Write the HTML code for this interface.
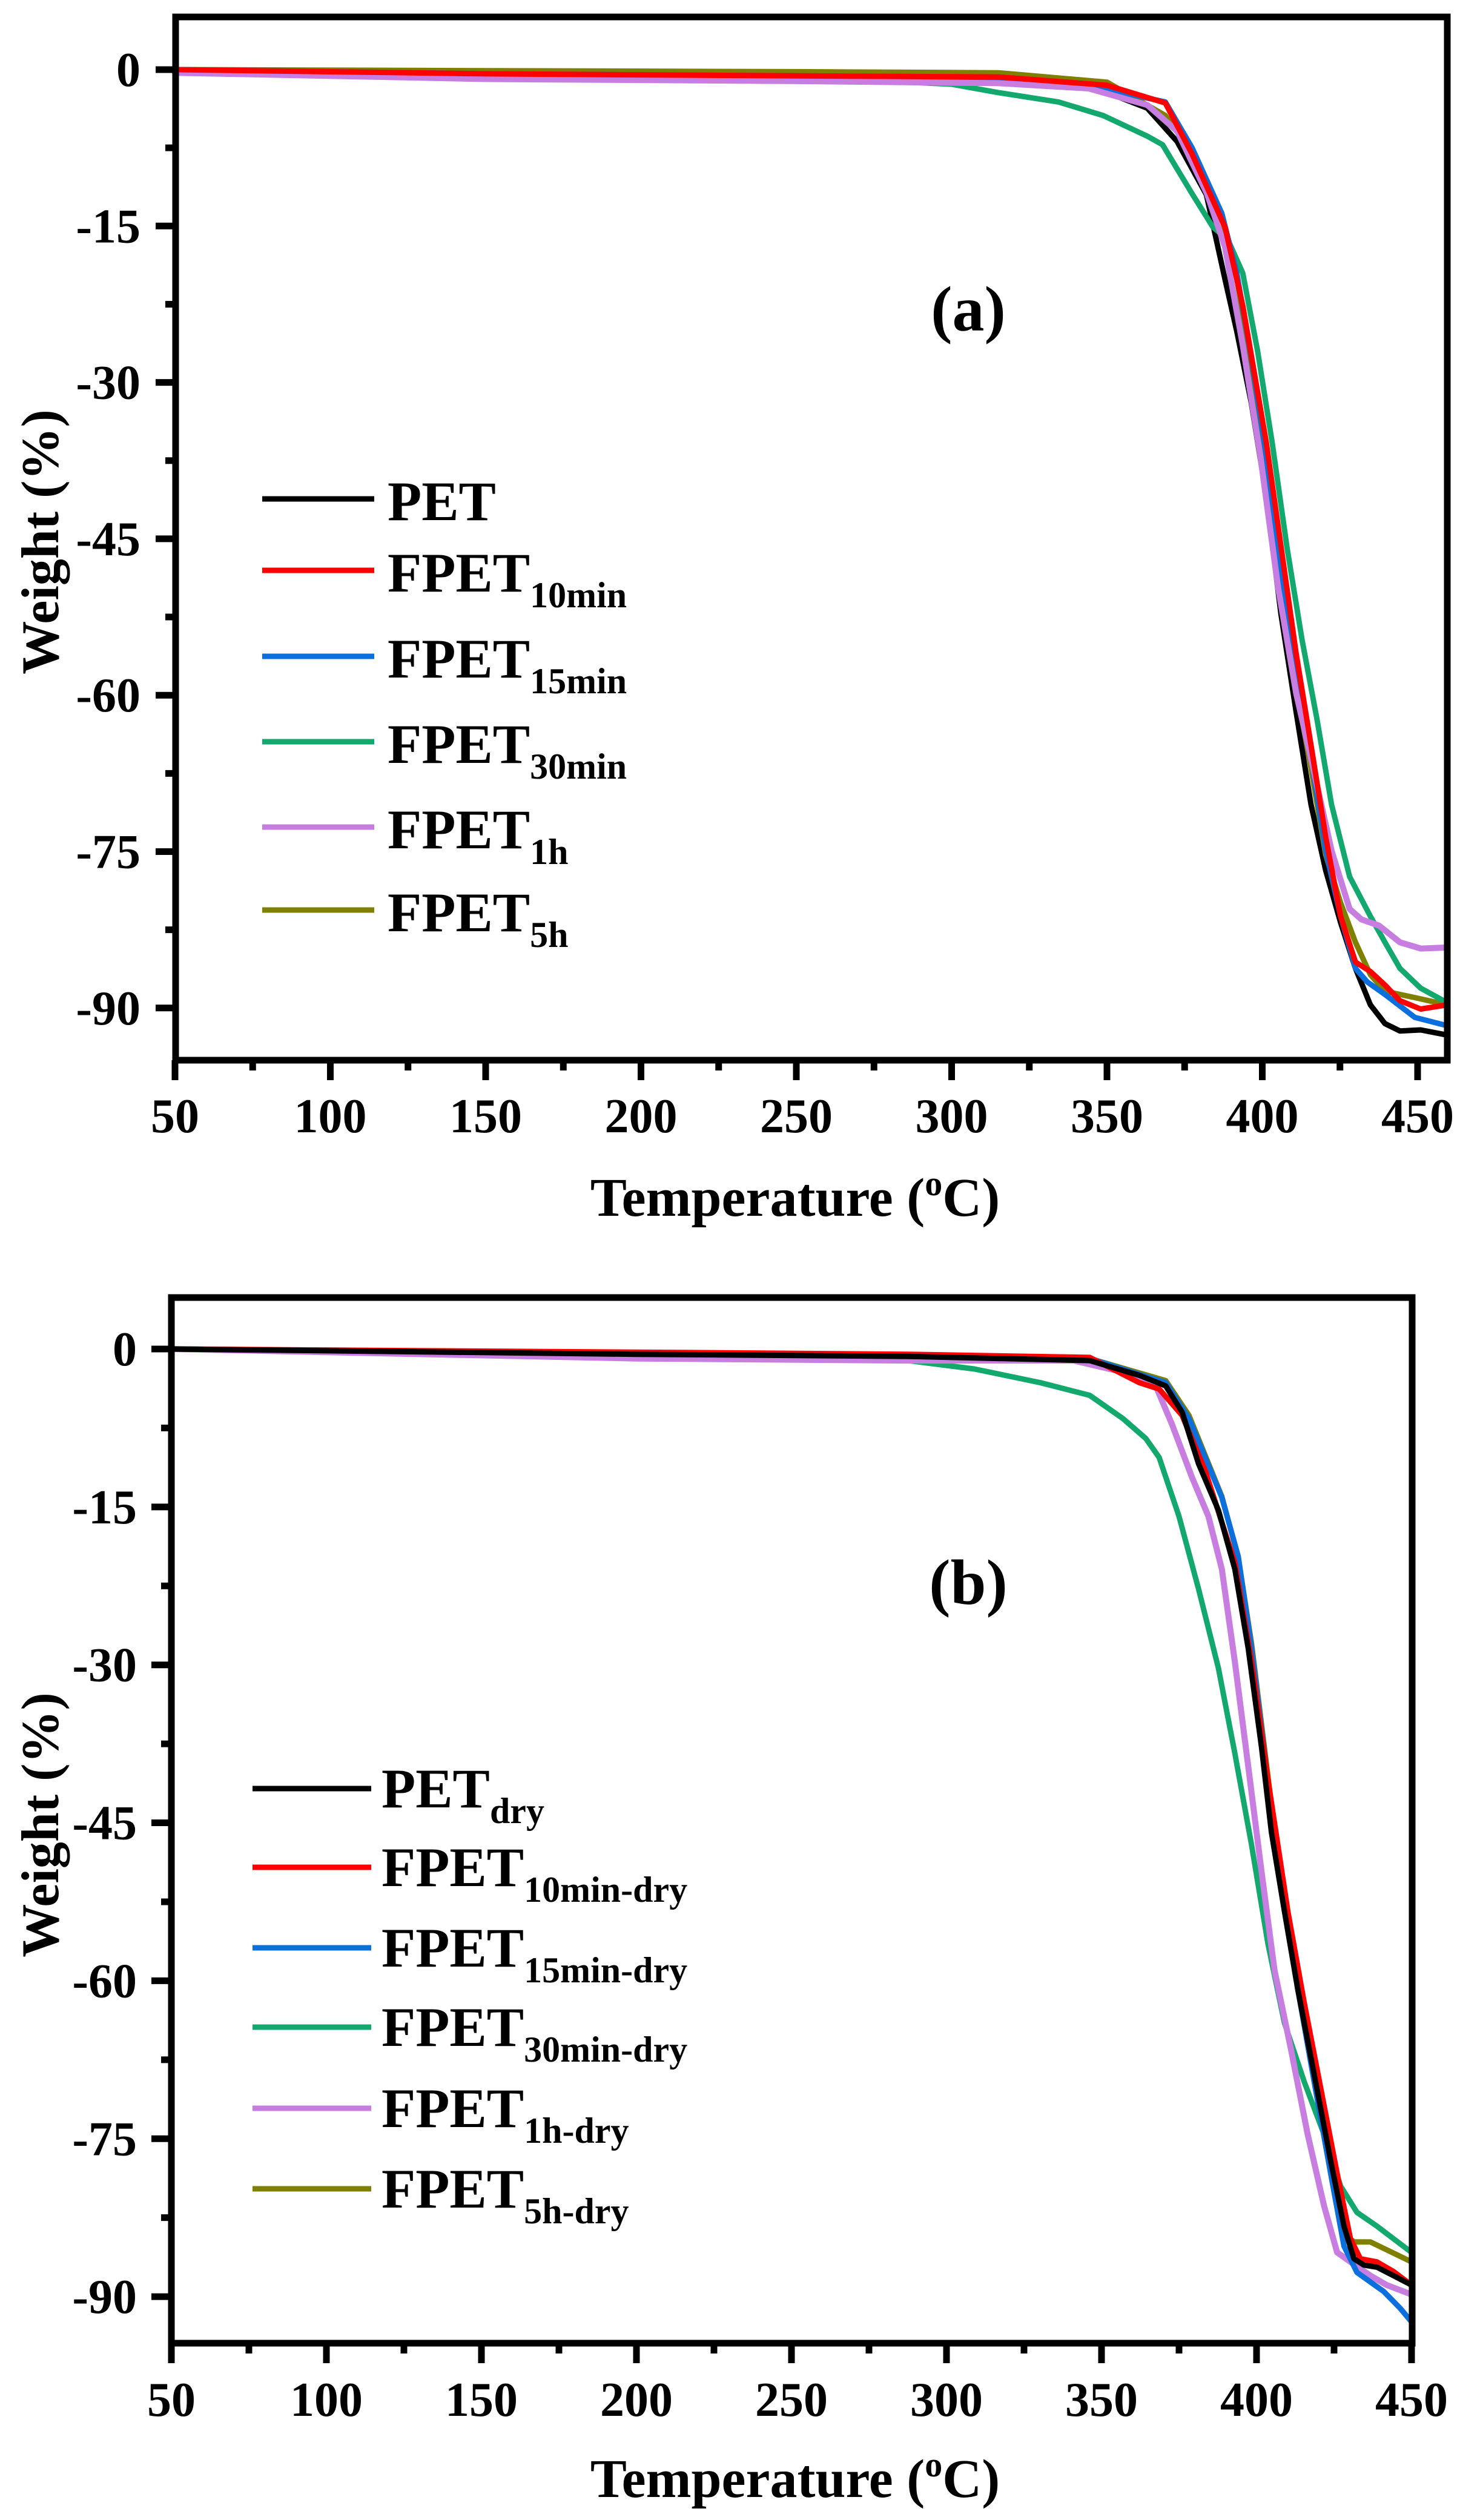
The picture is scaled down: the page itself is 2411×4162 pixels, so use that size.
<!DOCTYPE html>
<html><head><meta charset="utf-8"><style>
html,body{margin:0;padding:0;background:#fff}
svg{display:block}
text{font-family:"Liberation Serif",serif;font-weight:bold;fill:#000}
</style></head><body>
<svg id="chart" width="2411" height="4162" viewBox="0 0 2411 4162" xmlns="http://www.w3.org/2000/svg"></svg>
<script>
// ---------- Panel (a) data ----------
const aPET_T = [50,150,250,300,344,363,372.6,382,388,391.8,396.5,401.3,406,410.9,415.7,420.4,425.2,430,434.8,439.5,444.3,451,459.6];
const aPET_W = [0,-0.3,-0.6,-0.7,-1.5,-3.7,-6.9,-12,-20.1,-25.1,-32,-40.9,-52.2,-61.6,-70.5,-76.8,-81.8,-86.2,-89.7,-91.5,-92.2,-92.1,-92.6];
const a10_T = [50,150,250,315,350,368.8,377.4,388,393.7,401.3,406.1,410.9,415.7,420.4,425.2,430,434.8,439.5,444.3,451,459.6];
const a10_W = [0,-0.4,-0.6,-0.7,-1.5,-3.2,-8.1,-15.1,-22.6,-35.8,-45.9,-56,-64.8,-73.6,-81.2,-85.6,-86.5,-87.8,-89.3,-90.1,-89.7];
const a15_T = [50,150,250,315,344,368.8,377.4,387,391.8,396.5,401.3,406.1,410.9,415.7,420.4,425.2,430,433.8,439.5,449.1,459.6];
const a15_W = [0,-0.4,-0.6,-0.8,-1.5,-3.1,-7.5,-13.8,-19.5,-27.7,-37.1,-48.4,-58.5,-66,-74.9,-81.2,-86.2,-87.5,-88.7,-90.9,-91.7];
const a30_T = [50,150,250,300,315,334.4,348.8,363.1,367.9,377.4,384.1,388.9,393.7,398.5,403.2,408,412.8,417.6,422.3,428.1,434.8,439.5,444.3,451,459.6];
const a30_W = [0,-0.4,-0.7,-1.4,-2.2,-3.1,-4.4,-6.4,-7.2,-11.9,-15.1,-16.3,-19.5,-27,-35.8,-45.9,-54.7,-62.3,-70.5,-77.4,-81.2,-83.7,-86.2,-88.1,-89.5];
const a1h_T = [50,150,250,315,344,363,372.6,382.2,388,393.7,399.4,405.1,410.9,416.6,422.3,428.1,431.9,437.6,444.3,451,459.6];
const a1h_W = [-0.3,-0.9,-1.1,-1.3,-1.8,-3.4,-5.9,-11.9,-17,-26.4,-37.1,-49.7,-59.8,-67.3,-74.9,-80.5,-81.5,-82.1,-83.7,-84.3,-84.2];
const a5h_T = [50,150,250,315,350,368.8,377.4,387,391.8,396.5,401.3,406.1,410.9,415.7,420.4,425.2,430,434.8,439.5,449.1,459.6];
const a5h_W = [0,-0.1,-0.2,-0.3,-1.2,-4.4,-8,-14.2,-20,-28.5,-38.3,-49.5,-59.3,-67,-75.3,-79.9,-83.7,-86.8,-88.4,-89,-89.7];
// ---------- Panel (b) data ----------
const bPET_T = [50,200,287.7,346.2,362.2,370.7,376,381.3,387.7,393,397.3,401.6,404.8,409,413.3,418.6,423.9,428.2,431.4,434.6,438.8,444.1,450];
const bPET_W = [0,-0.5,-0.7,-1.1,-2.5,-3.5,-6,-10.9,-15.3,-20.9,-28.4,-37.8,-45.9,-53.4,-60.8,-68.9,-77.1,-83.3,-86.4,-87,-87.2,-88,-88.9];
const b10_T = [50,200,287.7,346.2,362.2,368.6,376,383.5,393,398.4,403.7,410.1,415.4,420.7,426,430.3,433.5,438.8,444.1,450];
const b10_W = [0,-0.3,-0.5,-0.8,-3.2,-3.8,-6.3,-11.6,-20.3,-29.7,-40.9,-53.4,-62.1,-70.2,-78.3,-84.5,-86.4,-86.7,-87.6,-88.9];
const b15_T = [50,200,287.7,346.2,370.7,378.2,388.8,394.1,398.4,402.6,408,413.3,418.6,423.9,428.2,432.4,436.7,441,446.3,450];
const b15_W = [0,-0.4,-0.6,-0.9,-3.2,-6.6,-14.1,-19.7,-28.4,-38.4,-51.5,-60.8,-69.6,-78.3,-85.2,-87.7,-88.6,-89.5,-91.1,-92.4];
const b30_T = [50,200,287.7,309,330.3,346.2,356.9,364.3,368.6,375,381.3,387.7,393,398.4,403.7,409,415.4,421.8,427.1,432.4,438.8,450];
const b30_W = [0,-0.6,-1.1,-1.9,-3.2,-4.4,-6.6,-8.5,-10.3,-15.9,-22.8,-30.3,-38.4,-47.1,-56.5,-64,-69.6,-74.6,-79.5,-82,-83.3,-85.8];
const b1h_T = [50,200,287.7,341,357,367.5,372.8,379.2,384.5,388.8,393,397.3,401.6,405.8,411.1,416.5,421.8,426,430.3,436.7,442,450];
const b1h_W = [0,-0.9,-1.1,-1.1,-2.2,-3.5,-7.2,-12.2,-15.9,-20.9,-29.7,-39.6,-49.6,-59,-66.5,-74.6,-81.4,-85.8,-86.7,-88,-88.9,-89.8];
const b5h_T = [50,200,287.7,346.2,370.7,378.2,388.8,394.1,398.4,402.6,408,413.3,418.6,423.9,428.2,431.4,436.7,441.6,450];
const b5h_W = [0,-0.4,-0.6,-0.9,-3,-6.3,-14,-19.8,-28,-38,-51,-60.8,-69.2,-77.8,-84,-84.8,-84.8,-85.5,-86.7];
// ---------- ticks ----------
const xTicks = [50,100,150,200,250,300,350,400,450];
const yTicks = [0,-15,-30,-45,-60,-75,-90];

const NS = "http://www.w3.org/2000/svg";
const svg = document.getElementById('chart');
function mk(tag, attrs, parent){ const e=document.createElementNS(NS,tag); for(const k in attrs) e.setAttribute(k,attrs[k]); (parent||svg).appendChild(e); return e; }

function panel(cfg){
  const g = mk('g',{});
  
  
  const X = t => cfg.x0 + (t - 50) * cfg.kx;
  const Y = w => cfg.y0 - w * cfg.ky;
  cfg.series.forEach(s => {
    const d = s.t.map((t,i)=>(i?'L':'M')+X(Math.min(t,cfg.xmax)).toFixed(1)+','+Y(s.w[i]).toFixed(1)).join(' ');
    const p = mk('path',{d:d,fill:'none',stroke:s.color,'stroke-width':s.sw||9,'stroke-linejoin':'round','stroke-linecap':'round'},g);
    
    
  });
  const fr = mk('rect',{x:cfg.left,y:cfg.top,width:cfg.right-cfg.left,height:cfg.bottom-cfg.top,fill:'none',stroke:'#000','stroke-width':11},g);
  
  
  xTicks.forEach(t => {
    const x = X(t);
    const tk = mk('line',{x1:x,x2:x,y1:cfg.bottom,y2:cfg.bottom+33,stroke:'#000','stroke-width':11},g);
    
    
    if (t+25 < cfg.xmax) {
      const m = mk('line',{x1:X(t+25),x2:X(t+25),y1:cfg.bottom,y2:cfg.bottom+17,stroke:'#000','stroke-width':11},g);
      
      
    }
    const lb = mk('text',{x:x,y:cfg.xlabBase,'font-size':80,'text-anchor':'middle'},g);
    lb.textContent = t;
    
    
  });
  yTicks.forEach(w => {
    const y = Y(w);
    const tk = mk('line',{x1:cfg.left-33,x2:cfg.left,y1:y,y2:y,stroke:'#000','stroke-width':11},g);
    
    
    if (Y(w-7.5) < cfg.bottom - 10) {
      const m = mk('line',{x1:cfg.left-17,x2:cfg.left,y1:Y(w-7.5),y2:Y(w-7.5),stroke:'#000','stroke-width':11},g);
      
      
    }
    const lb = mk('text',{x:cfg.ylabRight,y:y+27,'font-size':80,'text-anchor':'end'},g);
    lb.textContent = w;
    
    
  });
  const xt = mk('text',{x:1313,y:cfg.xtitleBase,'font-size':90,'text-anchor':'middle'},g);
  xt.innerHTML = 'Temperature (<tspan font-size="58" dy="-34">o</tspan><tspan dy="34">C)</tspan>';
  
  
  const yt = mk('text',{x:0,y:0,'font-size':88,'text-anchor':'middle',transform:`translate(96,${cfg.ytitleY}) rotate(-90)`},g);
  yt.textContent = 'Weight (%)';
  
  
  const pl = mk('text',{x:1599,y:cfg.labelBase,'font-size':106,'text-anchor':'middle'},g);
  pl.textContent = cfg.label;
  
  
  cfg.series.slice().sort((a,b)=>a.li-b.li).forEach((s,i) => {
    const ly = cfg.legY[i];
    const ln = mk('line',{x1:cfg.legX1,x2:cfg.legX2,y1:ly,y2:ly,stroke:s.color,'stroke-width':9},g);
    
    
    const tx = mk('text',{x:cfg.legTX,y:ly+cfg.legDy,'font-size':92},g);
    tx.innerHTML = s.main + (s.sub ? `<tspan font-size="60" dy="26">${s.sub}</tspan>` : '');
    
    
  });
}

panel({
  name:'panel-a', label:'(a)', x0:289, kx:5.13, y0:115, ky:17.22, xmax:459.6,
  left:290, right:2390, top:28, bottom:1751, xlabBase:1870, ylabRight:232,
  xtitleBase:2008, ytitleY:895, labelBase:546,
  legX1:433, legX2:618, legTX:640, legDy:35, legY:[824,942,1084,1225,1366,1503],
  series:[
    {key:'pet', li:0, t:aPET_T, w:aPET_W, color:'#000000', main:'PET'},
    {key:'fpet-5h', li:5, t:a5h_T, w:a5h_W, color:'#808000', main:'FPET', sub:'5h'},
    {key:'fpet-30min', li:3, t:a30_T, w:a30_W, color:'#13a86e', main:'FPET', sub:'30min'},
    {key:'fpet-15min', li:2, t:a15_T, w:a15_W, color:'#0b6fdd', main:'FPET', sub:'15min'},
    {key:'fpet-1h', li:4, t:a1h_T, w:a1h_W, color:'#c77ee0', main:'FPET', sub:'1h', sw:10},
    {key:'fpet-10min', li:1, t:a10_T, w:a10_W, color:'#ff0000', main:'FPET', sub:'10min'}
  ]
});
panel({
  name:'panel-b', label:'(b)', x0:283, kx:5.12, y0:2228, ky:17.39, xmax:450,
  left:283, right:2332, top:2143, bottom:3870, xlabBase:3990, ylabRight:226,
  xtitleBase:4124, ytitleY:3014, labelBase:2649,
  legX1:417, legX2:613, legTX:630, legDy:31, legY:[2954,3084,3217,3348,3482,3615],
  series:[
    {key:'fpet-30min-dry', li:3, t:b30_T, w:b30_W, color:'#13a86e', main:'FPET', sub:'30min-dry'},
    {key:'fpet-1h-dry', li:4, t:b1h_T, w:b1h_W, color:'#c77ee0', main:'FPET', sub:'1h-dry', sw:10},
    {key:'fpet-5h-dry', li:5, t:b5h_T, w:b5h_W, color:'#808000', main:'FPET', sub:'5h-dry'},
    {key:'fpet-15min-dry', li:2, t:b15_T, w:b15_W, color:'#0b6fdd', main:'FPET', sub:'15min-dry'},
    {key:'fpet-10min-dry', li:1, t:b10_T, w:b10_W, color:'#ff0000', main:'FPET', sub:'10min-dry'},
    {key:'pet-dry', li:0, t:bPET_T, w:bPET_W, color:'#000000', main:'PET', sub:'dry'}
  ]
});
</script>
</body></html>
